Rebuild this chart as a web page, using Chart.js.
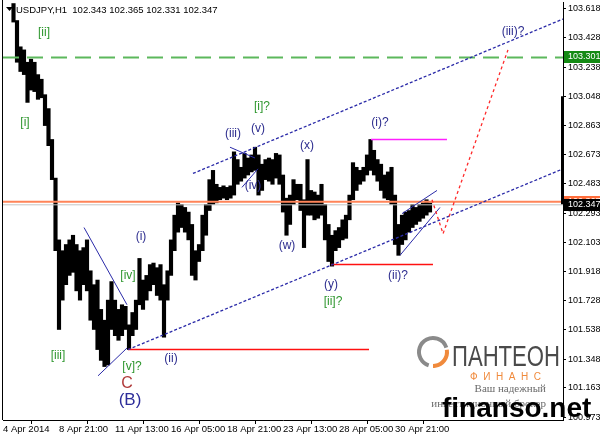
<!DOCTYPE html>
<html>
<head>
<meta charset="utf-8">
<script src="https://cdn.jsdelivr.net/npm/chart.js@4.4.1/dist/chart.umd.min.js"></script>
<style>
  html, body { margin: 0; background: #fff; }
  #wrap { width: 600px; height: 436px; }
</style>
</head>
<body>
<div id="wrap"><canvas id="chart"></canvas></div>
<script>
// USDJPY H1 - price, grouped 4 hourly bars per bucket
const firstBar = 12; // bar index of first bucket centre
const barsPerBucket = 4;
const highs = [
  103.65, 103.54, 103.37, 103.35, 103.27, 103.29, 103.27, 103.19, 103.16, 103.06,
  102.97, 102.77, 102.52, 102.12, 102.05, 102.09, 102.12, 102.15, 102.09, 102.05,
  102.07, 102.12, 101.92, 101.83, 101.86, 101.67, 101.60, 101.73, 101.85, 101.73,
  101.67, 101.70, 101.69, 101.57, 101.65, 101.73, 102.00, 101.86, 101.89, 101.96,
  101.97, 101.94, 101.96, 101.83, 101.92, 102.12, 102.28, 102.36, 102.35, 102.33,
  102.30, 102.22, 102.05, 102.09, 102.28, 102.35, 102.51, 102.57, 102.48, 102.46,
  102.47, 102.46, 102.47, 102.69, 102.64, 102.59, 102.68, 102.65, 102.67, 102.72,
  102.67, 102.61, 102.64, 102.65, 102.64, 102.68, 102.67, 102.54, 102.39, 102.41,
  102.51, 102.48, 102.48, 102.38, 102.64, 102.44, 102.43, 102.41, 102.48, 102.35,
  102.22, 102.15, 102.18, 102.20, 102.25, 102.28, 102.41, 102.62, 102.59, 102.57,
  102.59, 102.67, 102.77, 102.70, 102.64, 102.61, 102.54, 102.56, 102.59, 102.41,
  102.22, 102.28, 102.30, 102.31, 102.35, 102.33, 102.35, 102.36, 102.38, 102.36
];
const lows = [
  103.53, 103.27, 103.21, 103.19, 103.01, 103.09, 103.08, 103.03, 103.04, 102.86,
  102.73, 102.51, 102.05, 101.54, 101.73, 101.83, 101.89, 101.91, 101.79, 101.73,
  101.83, 101.79, 101.60, 101.54, 101.41, 101.34, 101.30, 101.31, 101.54, 101.50,
  101.47, 101.50, 101.54, 101.41, 101.50, 101.54, 101.70, 101.67, 101.73, 101.79,
  101.83, 101.76, 101.73, 101.49, 101.73, 101.89, 102.05, 102.17, 102.20, 102.17,
  102.12, 101.89, 101.86, 101.98, 102.05, 102.15, 102.31, 102.35, 102.36, 102.38,
  102.39, 102.38, 102.39, 102.41, 102.48, 102.50, 102.52, 102.54, 102.56, 102.57,
  102.41, 102.44, 102.51, 102.50, 102.48, 102.52, 102.48, 102.30, 102.15, 102.22,
  102.35, 102.38, 102.31, 102.07, 102.28, 102.28, 102.25, 102.26, 102.28, 102.12,
  101.98, 101.95, 102.05, 102.07, 102.12, 102.13, 102.25, 102.38, 102.44, 102.48,
  102.50, 102.54, 102.57, 102.54, 102.50, 102.44, 102.39, 102.38, 102.35, 102.09,
  102.02, 102.09, 102.12, 102.17, 102.20, 102.22, 102.24, 102.26, 102.28, 102.30
];

const quote = ['102.343', '102.365', '102.331', '102.347'];
const xTicks = [0, 64, 128, 192, 256, 320, 384, 448];
const xLabels = ['4 Apr 2014', '8 Apr 21:00', '11 Apr 13:00', '16 Apr 05:00',
                 '18 Apr 21:00', '23 Apr 13:00', '28 Apr 05:00', '30 Apr 21:00'];
const yTicks = [103.618, 103.428, 103.238, 103.048, 102.863, 102.673, 102.483, 102.293,
                102.103, 101.918, 101.728, 101.538, 101.348, 101.163, 100.973];

const bidPrice = 102.347;
const orangeLevel = 102.367;
const targetLevel = 103.301;
const rangeMarker = [103.05, 102.35];

// [barIndex, price] pairs
const supportLines = [[[142.9, 101.41], [418.3, 101.41]], [[374.9, 101.96], [491.4, 101.96]]];
const resistanceLine = [[420.6, 102.77], [507.4, 102.77]];
const channelLower = [[142.9, 101.41], [640, 102.58]];
const channelUpper = [[217.1, 102.55], [640, 103.55]];
const wedgeLines = [
  [[92.6, 102.20], [141.7, 101.70]],
  [[108.6, 101.24], [141.7, 101.42]],
  [[259.4, 102.72], [288, 102.65]],
  [[273.1, 102.46], [291.4, 102.58]],
  [[456, 102.29], [496, 102.44]],
  [[453.7, 102.02], [499.4, 102.33]]
];
const projection = [[490.3, 102.38], [502.9, 102.16], [577.1, 103.35]];

const greenLabels = [
  ['[ii]', 46.9, 103.46], ['[i]', 25.1, 102.88], ['[iii]', 62.9, 101.37],
  ['[iv]', 142.9, 101.89], ['[v]?', 147.4, 101.30], ['[i]?', 296, 102.98],
  ['[ii]?', 377.1, 101.72]
];
const blueLabels = [
  ['(i)', 157.7, 102.14], ['(ii)', 192, 101.35], ['(iii)', 262.9, 102.81],
  ['(v)', 291.4, 102.84], ['(iv)', 285.7, 102.47], ['(x)', 347.4, 102.73],
  ['(w)', 324.6, 102.08], ['(y)', 374.9, 101.83], ['(i)?', 430.9, 102.88],
  ['(ii)?', 451.4, 101.89], ['(iii)?', 582.9, 103.47]
];
const majorLabels = [['C', 141.7, 101.19], ['(B)', 145.1, 101.08]];

const bars = highs.map((h, i) => ({ x: firstBar + i * barsPerBucket, y: [lows[i], h] }));

const overlay = {
  id: 'overlay',
  afterDatasetsDraw(chart) {
    const { ctx, chartArea: a, scales: { x, y } } = chart;
    const pt = p => [x.getPixelForValue(p[0]), y.getPixelForValue(p[1])];
    const path = (pts, color, width, dash) => {
      ctx.beginPath();
      pts.map(pt).forEach(([px, py], i) => i ? ctx.lineTo(px, py) : ctx.moveTo(px, py));
      ctx.strokeStyle = color;
      ctx.lineWidth = width;
      ctx.setLineDash(dash || []);
      ctx.stroke();
    };
    const hline = (v, color, width, dash) => path([[x.min, v], [x.max, v]], color, width, dash);

    ctx.save();
    ctx.beginPath();
    ctx.rect(a.left, a.top, a.right - a.left, a.bottom - a.top);
    ctx.clip();

    hline(bidPrice, '#c4c4c4', 1);
    hline(orangeLevel, '#ff8459', 2);
    hline(targetLevel, '#5cb85c', 2, [16, 8]);

    supportLines.forEach(s => path(s, '#ff1010', 1.5));
    path(resistanceLine, '#ff20ff', 1.5);
    path(channelLower, '#2a2aa8', 1.3, [3, 2]);
    path(channelUpper, '#2a2aa8', 1.3, [3, 2]);
    wedgeLines.forEach(s => path(s, '#2a2aa8', 1));
    path(projection, '#ff2a2a', 1.3, [3, 3]);
    ctx.setLineDash([]);

    ctx.textAlign = 'center';
    ctx.textBaseline = 'middle';
    const put = (list, color, font) => {
      ctx.fillStyle = color;
      ctx.font = font;
      list.forEach(([t, bx, p]) => ctx.fillText(t, x.getPixelForValue(bx), y.getPixelForValue(p)));
    };
    put(greenLabels, '#2f972f', '12px "Liberation Sans"');
    put(blueLabels, '#2d2d8f', '12px "Liberation Sans"');
    put([majorLabels[0]], '#b03a3a', '16px "Liberation Sans"');
    put([majorLabels[1]], '#2d2d9a', '17px "Liberation Sans"');
    ctx.restore();
  },
  afterDraw(chart) {
    const { ctx, chartArea: a, scales: { y } } = chart;
    ctx.save();
    // frame left edge + range marker
    ctx.strokeStyle = '#000';
    ctx.lineWidth = 1;
    ctx.beginPath();
    ctx.moveTo(a.left - 0.5, 0);
    ctx.lineTo(a.left - 0.5, a.bottom);
    ctx.stroke();
    ctx.lineWidth = 2;
    ctx.beginPath();
    ctx.moveTo(a.right - 1, y.getPixelForValue(rangeMarker[0]));
    ctx.lineTo(a.right - 1, y.getPixelForValue(rangeMarker[1]));
    ctx.stroke();

    // header
    ctx.fillStyle = '#000';
    ctx.beginPath();
    ctx.moveTo(a.left + 3, a.top + 5);
    ctx.lineTo(a.left + 10, a.top + 5);
    ctx.lineTo(a.left + 6.5, a.top + 9);
    ctx.closePath();
    ctx.fill();
    ctx.font = '9.5px "Liberation Sans"';
    ctx.textAlign = 'left';
    ctx.textBaseline = 'middle';
    ctx.fillText('USDJPY,H1  ' + quote.join(' '), a.left + 13, a.top + 8);

    // price tags on the axis
    const tag = (v, bg) => {
      const py = Math.round(y.getPixelForValue(v));
      ctx.fillStyle = bg;
      ctx.fillRect(a.right + 1, py - 6, 36, 12);
      ctx.fillStyle = '#fff';
      ctx.font = '9px "Liberation Sans"';
      ctx.fillText(v.toFixed(3), a.right + 5, py);
    };
    tag(orangeLevel, '#ff6e3c');
    tag(targetLevel, '#138a13');
    tag(bidPrice, '#000');

    // broker logo
    const lx = 433, ly = 352;
    ctx.lineWidth = 4;
    ctx.strokeStyle = '#8a8a8a';
    ctx.beginPath(); ctx.arc(lx, ly, 14, Math.PI * 0.6, Math.PI * 1.9); ctx.stroke();
    ctx.strokeStyle = '#f08a3c';
    ctx.beginPath(); ctx.arc(lx, ly, 14, Math.PI * 1.95, Math.PI * 2.5); ctx.stroke();
    ctx.fillStyle = '#4a4a4a';
    ctx.font = '30px "Liberation Sans"';
    ctx.textBaseline = 'alphabetic';
    const name = 'ПАНТЕОН';
    const w = ctx.measureText(name).width;
    ctx.save();
    ctx.translate(452, 366);
    ctx.scale(108 / w, 1);
    ctx.fillText(name, 0, 0);
    ctx.restore();
    ctx.fillStyle = '#f08a3c';
    ctx.font = '10px "Liberation Sans"';
    ctx.fillText('Ф  И  Н  А  Н  С', 470, 380);
    ctx.fillStyle = '#6a6a6a';
    ctx.font = '11px "Liberation Serif"';
    ctx.textAlign = 'right';
    ctx.fillText('Ваш надежный', 546, 392);
    ctx.fillText('инвестиционный брокер', 546, 407);
    ctx.fillStyle = '#000';
    ctx.font = 'bold 28px "Liberation Sans"';
    ctx.textAlign = 'left';
    ctx.fillText('finanso.net', 442, 417);
    ctx.restore();
  }
};

new Chart(document.getElementById('chart'), {
  type: 'bar',
  data: {
    datasets: [{
      data: bars,
      backgroundColor: '#000',
      borderWidth: 0,
      barPercentage: 1,
      categoryPercentage: 1,
      grouped: false
    }]
  },
  options: {
    responsive: true,
    maintainAspectRatio: false,
    animation: false,
    layout: { padding: { left: 3, top: 2, right: 0, bottom: 0 } },
    plugins: { legend: { display: false }, tooltip: { enabled: false } },
    scales: {
      x: {
        type: 'linear',
        min: 0,
        max: 640,
        offset: false,
        afterBuildTicks: s => { s.ticks = xTicks.map(v => ({ value: v })); },
        afterFit: s => { s.height = 16; s.paddingLeft = 0; s.paddingRight = 0; },
        grid: { drawOnChartArea: false, tickLength: 4, color: '#000' },
        border: { color: '#000', width: 1 },
        ticks: {
          autoSkip: false,
          maxRotation: 0,
          align: 'start',
          padding: 0,
          color: '#000',
          font: { family: 'Liberation Sans', size: 9.5 },
          callback: (v, i) => xLabels[i]
        }
      },
      y: {
        position: 'right',
        min: 100.954,
        max: 103.66,
        afterBuildTicks: s => { s.ticks = yTicks.map(v => ({ value: v })); },
        afterFit: s => { s.width = 37; s.paddingTop = 0; s.paddingBottom = 0; },
        grid: { drawOnChartArea: false, tickLength: 3, color: '#000' },
        border: { color: '#000', width: 1 },
        ticks: {
          padding: 2,
          color: '#000',
          font: { family: 'Liberation Sans', size: 9 },
          callback: v => v.toFixed(3)
        }
      }
    }
  },
  plugins: [overlay]
});
</script>
</body>
</html>
